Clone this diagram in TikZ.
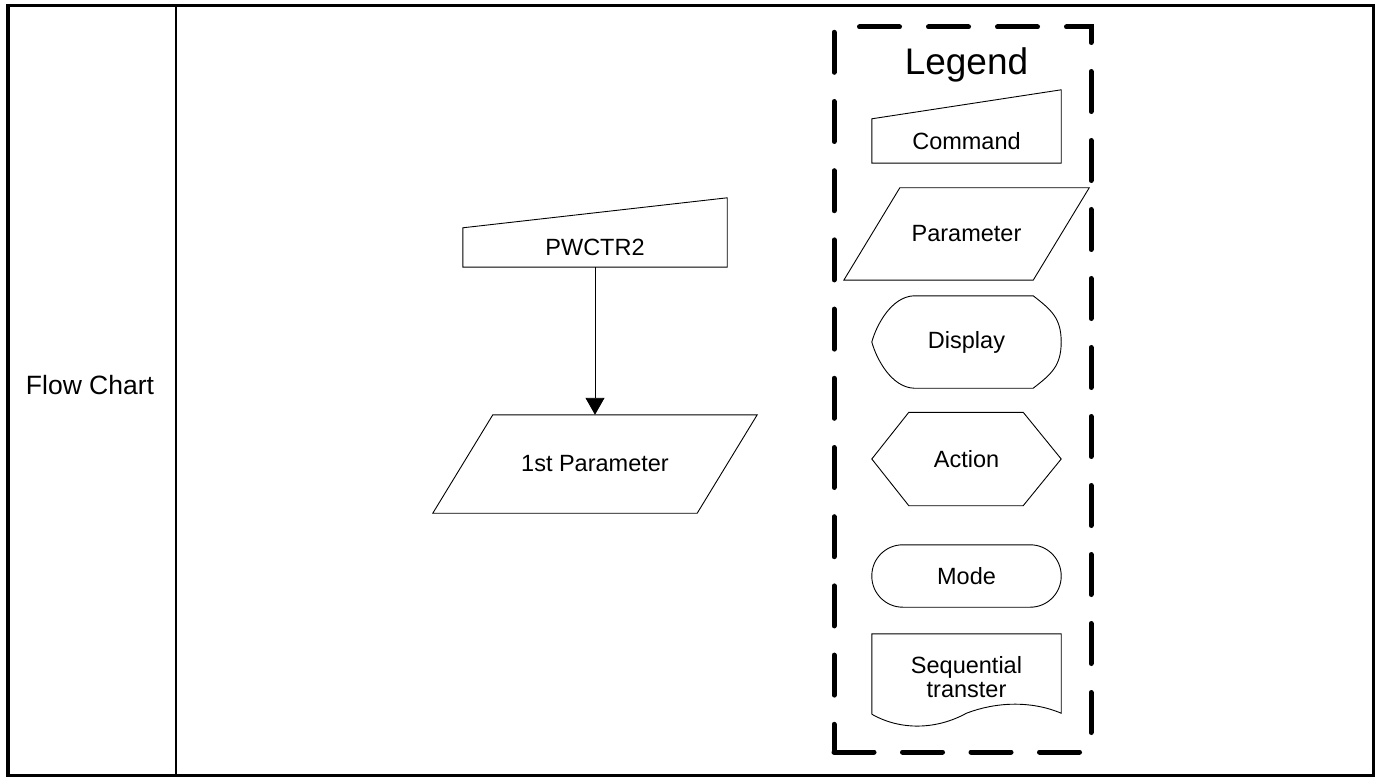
\documentclass[tikz,border=0pt]{standalone}
\usepackage{fontspec}
\setmainfont{Liberation Sans}
\usetikzlibrary{arrows.meta, calc}

\tikzset{
    txt/.style={font=\fontsize{23.5}{24.5}\selectfont, align=center, inner sep=0pt},
    outline/.style={line width=0.9pt},
    legendbox/.style={line width=5pt, line cap=round}
}

\begin{document}
\begin{tikzpicture}[x=1pt, y=-1pt]
    \useasboundingbox (0,0) rectangle (1382,778);
    \draw[line width=3pt] (7,6) rectangle (1373,775);
    \draw[line width=4pt] (7.5,4.5) -- (7.5,776.5);
    \draw[line width=2pt] (176,6) -- (176,775);
    \node[txt, font=\fontsize{26.5}{28}\selectfont] (rowname) at (90,385) {Flow Chart};

    \node[txt, minimum width=264, minimum height=39] (pwctr) at (595,247.5) {PWCTR2};
    \draw[outline] (pwctr.south west) -- (pwctr.south east) -- ($(pwctr.north east)+(0,-30)$)
        -- (pwctr.north west) -- cycle;
    \node[txt, minimum width=264, minimum height=98] (firstpar) at (595,464) {1st Parameter};
    \draw[outline] ($(firstpar.north west)+(30,0)$) -- ($(firstpar.north east)+(30,0)$)
        -- ($(firstpar.south east)+(-30,0)$) -- ($(firstpar.south west)+(-30,0)$) -- cycle;
    \draw[outline, -{Triangle[width=19pt, length=17pt]}] (pwctr.south) -- (firstpar.north);

    \coordinate (lgnw) at (834,27);
    \coordinate (lgse) at (1091,752);
    \draw[legendbox, dash pattern=on 40pt off 29pt, dash phase=43.5pt, line join=miter]
        (lgnw) -- (lgnw -| lgse) -- (lgse);
    \draw[legendbox, dash pattern=on 40pt off 29.2pt, dash phase=63.9pt] (lgnw) -- (lgnw |- lgse);
    \draw[legendbox, dash pattern=on 40pt off 28.5pt] (lgnw |- lgse) -- (lgse);
    \node[font=\fontsize{37}{40}\selectfont, inner sep=0pt] (legend) at (966.5,65) {Legend};

    \node[txt, minimum width=189, minimum height=44] (cmd) at (966.5,141) {Command};
    \draw[outline] (cmd.south west) -- (cmd.south east) -- ($(cmd.north east)+(0,-29)$)
        -- (cmd.north west) -- cycle;

    \node[txt, minimum width=189, minimum height=92] (par) at (966.5,234) {Parameter};
    \draw[outline] ($(par.north west)+(28,0)$) -- ($(par.north east)+(28,0)$)
        -- ($(par.south east)+(-28,0)$) -- ($(par.south west)+(-28,0)$) -- cycle;

    \node[txt, minimum width=189, minimum height=92] (disp) at (966.5,342) {Display};
    \draw[outline] ($(disp.north east)+(-28,0)$) -- ($(disp.north west)+(42,0)$)
        .. controls ($(disp.north west)+(20,1)$) and ($(disp.west)+(5,-18)$) .. (disp.west)
        .. controls ($(disp.west)+(5,18)$) and ($(disp.south west)+(20,-1)$) .. ($(disp.south west)+(42,0)$)
        -- ($(disp.south east)+(-28,0)$)
        .. controls ($(disp.south east)+(-10,-14)$) and ($(disp.east)+(0,24)$) .. (disp.east)
        .. controls ($(disp.east)+(0,-24)$) and ($(disp.north east)+(-10,14)$) .. cycle;

    \node[txt, minimum width=189, minimum height=93] (act) at (966.5,459) {Action};
    \draw[outline] (act.west) -- ($(act.north west)+(37,0)$) -- ($(act.north east)+(-38,0)$)
        -- (act.east) -- ($(act.south east)+(-38,0)$) -- ($(act.south west)+(37,0)$) -- cycle;

    \node[txt, minimum width=189, minimum height=62] (mode) at (966.5,576) {Mode};
    \draw[outline, rounded corners=31] (mode.south west) rectangle (mode.north east);

    \node[txt, minimum width=189, minimum height=86] (seq) at (966.5,677) {Sequential\\transter};
    \draw[outline] ($(seq.south west)+(0,-6)$) -- (seq.north west) -- (seq.north east) -- ($(seq.south east)+(0,-7)$)
        .. controls ($(seq.south east)+(-31,-20)$) and ($(seq.south east)+(-66,-18)$) .. ($(seq.south)+(0,-7)$)
        .. controls ($(seq.south)+(-31,10)$) and ($(seq.south west)+(28,10)$) .. ($(seq.south west)+(0,-6)$);
\end{tikzpicture}
\end{document}
